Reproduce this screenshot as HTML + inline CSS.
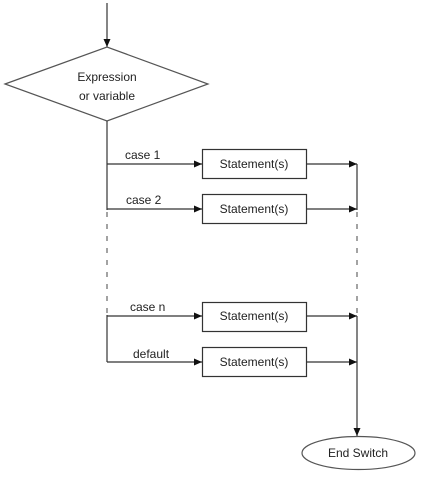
<!DOCTYPE html>
<html><head><meta charset="utf-8"><style>
html,body{margin:0;padding:0;background:#fff;}
svg{display:block}
text{font-family:"Liberation Sans",sans-serif;font-size:12px;fill:#222;}
</style></head><body>
<svg width="422" height="480" viewBox="0 0 422 480" xmlns="http://www.w3.org/2000/svg">
<defs><marker id="a" markerWidth="8" markerHeight="8" refX="8" refY="4" orient="auto" markerUnits="userSpaceOnUse"><path d="M0,0.5 L8,4 L0,7.5z" fill="#111"/></marker></defs>
<g stroke="#333" stroke-width="1.2" fill="none">
<line x1="107" y1="3" x2="107" y2="47" marker-end="url(#a)"/>
<polygon points="5,84 107,47 208,84 107,121" fill="#fff" stroke="#555"/>
<line x1="107" y1="121" x2="107" y2="210"/>
<line x1="107" y1="212" x2="107" y2="315" stroke-dasharray="5,7" stroke="#666"/>
<line x1="107" y1="315" x2="107" y2="362"/>
<line x1="107" y1="164" x2="202" y2="164" marker-end="url(#a)"/>
<line x1="107" y1="209" x2="202" y2="209" marker-end="url(#a)"/>
<line x1="107" y1="316" x2="202" y2="316" marker-end="url(#a)"/>
<line x1="107" y1="362" x2="202" y2="362" marker-end="url(#a)"/>
<rect x="202.5" y="149.5" width="104" height="29" fill="#fff"/>
<rect x="202.5" y="194.5" width="104" height="29" fill="#fff"/>
<rect x="202.5" y="302.5" width="104" height="29" fill="#fff"/>
<rect x="202.5" y="347.5" width="104" height="29" fill="#fff"/>
<line x1="306" y1="164" x2="357" y2="164" marker-end="url(#a)"/>
<line x1="306" y1="209" x2="357" y2="209" marker-end="url(#a)"/>
<line x1="306" y1="316" x2="357" y2="316" marker-end="url(#a)"/>
<line x1="306" y1="362" x2="357" y2="362" marker-end="url(#a)"/>
<line x1="357" y1="164" x2="357" y2="210"/>
<line x1="357" y1="212" x2="357" y2="315" stroke-dasharray="5,7" stroke="#666"/>
<line x1="357" y1="316" x2="357" y2="436" marker-end="url(#a)"/>
<ellipse cx="358.5" cy="453" rx="56.5" ry="16.5" fill="#fff" stroke="#555"/>
</g>
<text x="107" y="81" text-anchor="middle">Expression</text>
<text x="107" y="100" text-anchor="middle">or variable</text>
<text x="125" y="159">case 1</text>
<text x="126" y="204">case 2</text>
<text x="130" y="311">case n</text>
<text x="133" y="358">default</text>
<text x="254" y="168" text-anchor="middle">Statement(s)</text>
<text x="254" y="213" text-anchor="middle">Statement(s)</text>
<text x="254" y="320" text-anchor="middle">Statement(s)</text>
<text x="254" y="366" text-anchor="middle">Statement(s)</text>
<text x="358" y="457" text-anchor="middle">End Switch</text>
</svg>
</body></html>
